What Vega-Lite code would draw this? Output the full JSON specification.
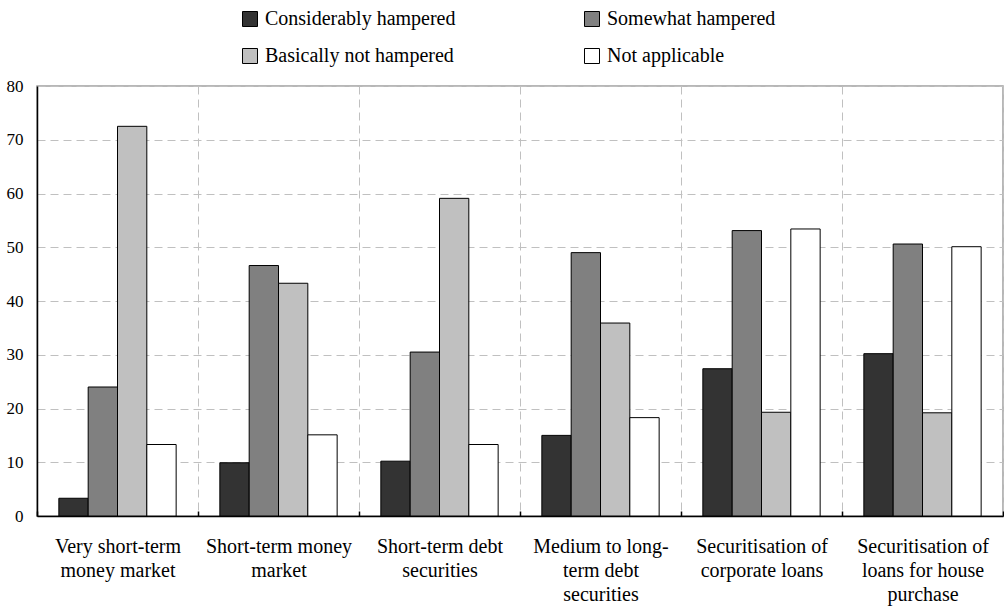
{
  "$schema": "https://vega.github.io/schema/vega-lite/v6.json",
  "autosize": "none",
  "width": 966,
  "height": 430,
  "padding": {"left": 37, "top": 86, "right": 1, "bottom": 96},
  "background": "white",
  "data": {
    "values": [
      {"cat": "Very short-term|money market", "series": "Considerably hampered", "value": 3.3},
      {"cat": "Very short-term|money market", "series": "Somewhat hampered", "value": 24.0},
      {"cat": "Very short-term|money market", "series": "Basically not hampered", "value": 72.5},
      {"cat": "Very short-term|money market", "series": "Not applicable", "value": 13.3},
      {"cat": "Short-term money|market", "series": "Considerably hampered", "value": 9.9},
      {"cat": "Short-term money|market", "series": "Somewhat hampered", "value": 46.6},
      {"cat": "Short-term money|market", "series": "Basically not hampered", "value": 43.3},
      {"cat": "Short-term money|market", "series": "Not applicable", "value": 15.1},
      {"cat": "Short-term debt|securities", "series": "Considerably hampered", "value": 10.2},
      {"cat": "Short-term debt|securities", "series": "Somewhat hampered", "value": 30.5},
      {"cat": "Short-term debt|securities", "series": "Basically not hampered", "value": 59.1},
      {"cat": "Short-term debt|securities", "series": "Not applicable", "value": 13.3},
      {"cat": "Medium to long-|term debt|securities", "series": "Considerably hampered", "value": 15.0},
      {"cat": "Medium to long-|term debt|securities", "series": "Somewhat hampered", "value": 49.0},
      {"cat": "Medium to long-|term debt|securities", "series": "Basically not hampered", "value": 35.9},
      {"cat": "Medium to long-|term debt|securities", "series": "Not applicable", "value": 18.3},
      {"cat": "Securitisation of|corporate loans", "series": "Considerably hampered", "value": 27.4},
      {"cat": "Securitisation of|corporate loans", "series": "Somewhat hampered", "value": 53.1},
      {"cat": "Securitisation of|corporate loans", "series": "Basically not hampered", "value": 19.3},
      {"cat": "Securitisation of|corporate loans", "series": "Not applicable", "value": 53.4},
      {"cat": "Securitisation of|loans for house|purchase", "series": "Considerably hampered", "value": 30.2},
      {"cat": "Securitisation of|loans for house|purchase", "series": "Somewhat hampered", "value": 50.6},
      {"cat": "Securitisation of|loans for house|purchase", "series": "Basically not hampered", "value": 19.2},
      {"cat": "Securitisation of|loans for house|purchase", "series": "Not applicable", "value": 50.1}
    ]
  },
  "mark": {"type": "bar", "stroke": "black", "strokeWidth": 1},
  "encoding": {
    "x": {
      "field": "cat",
      "type": "nominal",
      "sort": null,
      "title": null,
      "scale": {"paddingInner": 0, "paddingOuter": 0},
      "axis": {
        "labelAngle": 0,
        "labelExpr": "split(datum.label, '|')",
        "labelFont": "Liberation Serif",
        "labelFontSize": 20,
        "labelLineHeight": 24,
        "labelColor": "black",
        "labelPadding": 25,
        "labelLimit": 300,
        "tickBand": "extent",
        "ticks": true,
        "tickSize": -5,
        "tickColor": "black",
        "tickWidth": 1.5,
        "grid": true,
        "gridColor": "#c0c0c0",
        "gridDash": [8, 5],
        "gridWidth": 1,
        "domainColor": "black",
        "domainWidth": 1.5
      }
    },
    "xOffset": {
      "field": "series",
      "type": "nominal",
      "sort": ["Considerably hampered", "Somewhat hampered", "Basically not hampered", "Not applicable"],
      "scale": {"paddingInner": 0, "paddingOuter": 0.745}
    },
    "y": {
      "field": "value",
      "type": "quantitative",
      "title": null,
      "scale": {"domain": [0, 80], "nice": false},
      "axis": {
        "values": [0, 10, 20, 30, 40, 50, 60, 70, 80],
        "labelFont": "Liberation Serif",
        "labelFontSize": 17,
        "labelColor": "black",
        "labelPadding": 14,
        "ticks": false,
        "grid": true,
        "gridColor": "#c0c0c0",
        "gridDash": [8, 5],
        "gridWidth": 1,
        "domainColor": "black",
        "domainWidth": 1.5
      }
    },
    "fill": {
      "field": "series",
      "type": "nominal",
      "scale": {
        "domain": ["Considerably hampered", "Somewhat hampered", "Basically not hampered", "Not applicable"],
        "range": ["#333333", "#808080", "#c0c0c0", "#ffffff"]
      },
      "legend": {
        "title": null,
        "orient": "none",
        "legendX": 203,
        "legendY": -77,
        "columns": 2,
        "direction": "horizontal",
        "padding": 0,
        "columnPadding": 126,
        "rowPadding": 17,
        "symbolType": "square",
        "symbolSize": 225,
        "symbolStrokeColor": "black",
        "symbolStrokeWidth": 1,
        "symbolOpacity": 1,
        "labelFont": "Liberation Serif",
        "labelFontSize": 20,
        "labelColor": "black",
        "labelOffset": 5,
        "labelLimit": 400
      }
    }
  },
  "config": {
    "view": {"stroke": "#a0a0a0", "strokeWidth": 1.5}
  }
}
